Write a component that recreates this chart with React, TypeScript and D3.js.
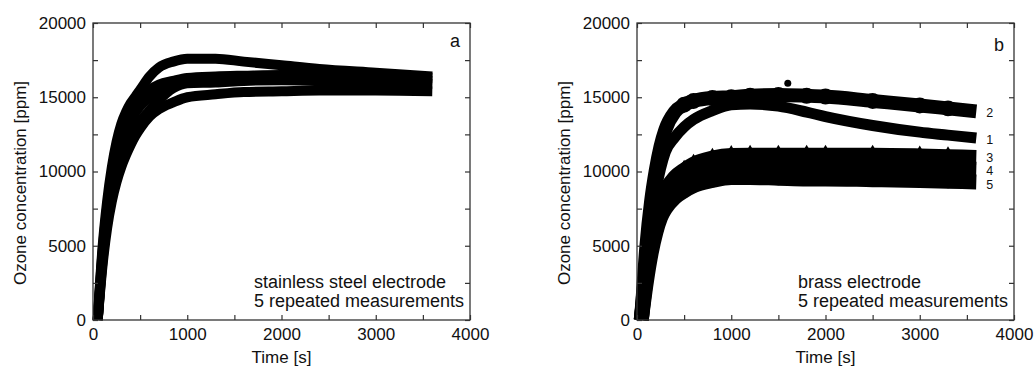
import React, { useEffect, useRef } from 'react';
import * as d3 from 'd3';

const width = 1034;
const height = 372;
const plotTop = 23;
const plotBottom = 320;
const font = '"Liberation Sans", Arial, sans-serif';

// time [s] and ozone concentration [ppm], stainless steel electrode
const steelTime = [50, 100, 150, 200, 250, 300, 350, 400, 450, 500, 600, 700, 850, 1000, 1300, 1600, 2000, 2400, 3000, 3600];
const steel1 = [0, 4800, 8000, 10300, 12000, 13200, 14000, 14600, 15050, 15500, 16400, 17000, 17400, 17600, 17600, 17400, 17150, 16900, 16650, 16400];
const steel2 = [0, 4500, 7600, 9800, 11400, 12600, 13500, 14100, 14600, 15000, 15500, 15850, 16100, 16300, 16400, 16450, 16500, 16500, 16400, 16300];
const steel3 = [0, 4200, 7100, 9200, 10800, 12000, 12900, 13500, 14000, 14400, 15000, 15500, 15900, 16100, 16200, 16300, 16350, 16300, 16200, 16100];
const steel4 = [0, 3900, 6700, 8600, 10000, 11100, 11900, 12500, 13000, 13400, 14100, 14800, 15600, 15950, 16000, 16100, 16150, 16100, 16000, 15900];
const steel5 = [0, 3600, 6200, 8000, 9300, 10300, 11100, 11800, 12400, 12900, 13700, 14200, 14650, 15000, 15200, 15350, 15400, 15450, 15450, 15400];

// brass electrode
const brassTime = [45, 100, 150, 200, 250, 300, 400, 500, 600, 800, 1000, 1200, 1500, 1800, 2000, 2500, 3000, 3300, 3600];
const brass1 = [0, 4000, 6700, 8700, 10200, 11300, 12300, 13000, 13500, 14100, 14500, 14550, 14400, 14000, 13700, 13100, 12650, 12450, 12250];
const brass2 = [0, 5000, 8000, 10100, 11700, 12800, 14000, 14500, 14750, 14950, 15000, 15100, 15150, 15100, 15050, 14750, 14450, 14250, 14050];
const brass3 = [0, 3500, 5600, 7000, 8000, 8700, 9600, 10100, 10500, 10900, 11080, 11100, 11100, 11100, 11100, 11100, 11050, 11000, 10950];
const brass4 = [0, 3000, 5000, 6400, 7400, 8100, 8900, 9400, 9750, 10150, 10350, 10350, 10350, 10300, 10300, 10300, 10250, 10200, 10150];
const brass5 = [0, 2600, 4500, 5900, 6900, 7500, 8250, 8700, 9050, 9400, 9600, 9600, 9550, 9500, 9500, 9450, 9400, 9350, 9300];
const brassOutlier = [1600, 15950];

const brassLabels = ['1', '2', '3', '4', '5'];
const xTicks = [0, 1000, 2000, 3000, 4000];
const yTicks = [0, 5000, 10000, 15000, 20000];

function drawPanel(svg, opts) {
    const x = d3.scaleLinear([0, 4000], [opts.left, opts.right]);
    const y = d3.scaleLinear([0, 20000], [plotBottom, plotTop]);
    const g = svg.append('g');

    const line = d3.line().x(d => x(d[0])).y(d => y(d[1])).curve(d3.curveMonotoneX);
    opts.series.forEach(s => {
        const pts = opts.time.map((t, i) => [t, s.values[i]]);
        g.append('path')
            .attr('d', line(pts))
            .attr('fill', 'none')
            .attr('stroke', '#000')
            .attr('stroke-width', s.width)
            .attr('stroke-linejoin', 'round')
            .attr('stroke-linecap', 'butt');
        if (s.marker) {
            g.selectAll(null)
                .data(pts.slice(7, -1))
                .join('path')
                .attr('transform', d => `translate(${x(d[0])},${y(d[1])})`)
                .attr('d', d3.symbol(s.marker, s.markerSize)());
        }
    });

    if (opts.outlier) {
        g.append('circle')
            .attr('cx', x(opts.outlier[0]))
            .attr('cy', y(opts.outlier[1]))
            .attr('r', 3.5);
    }

    const xMinor = d3.range(0, 4001, 500);
    const yMinor = d3.range(0, 20001, 2500);
    const fmtX = d => (xTicks.includes(d) ? String(d) : '');
    const fmtY = d => (yTicks.includes(d) ? String(d) : '');

    g.append('g')
        .attr('transform', `translate(0,${plotBottom})`)
        .call(d3.axisBottom(x).tickValues(xMinor).tickSizeInner(-5).tickSizeOuter(0).tickPadding(8).tickFormat(fmtX));
    g.append('g')
        .attr('transform', `translate(0,${plotTop})`)
        .call(d3.axisTop(x).tickValues(xMinor).tickSizeInner(-5).tickSizeOuter(0).tickFormat(() => ''));
    g.append('g')
        .attr('transform', `translate(${opts.left},0)`)
        .call(d3.axisLeft(y).tickValues(yMinor).tickSizeInner(-5).tickSizeOuter(0).tickPadding(7).tickFormat(fmtY));
    g.append('g')
        .attr('transform', `translate(${opts.right},0)`)
        .call(d3.axisRight(y).tickValues(yMinor).tickSizeInner(-5).tickSizeOuter(0).tickFormat(() => ''));

    g.selectAll('.domain').remove();
    g.selectAll('.tick line').attr('stroke', '#333').attr('stroke-width', 1.2);
    g.selectAll('.tick text').attr('font-size', 17).attr('font-family', font).attr('fill', '#111');

    g.append('rect')
        .attr('x', opts.left)
        .attr('y', plotTop)
        .attr('width', opts.right - opts.left)
        .attr('height', plotBottom - plotTop)
        .attr('fill', 'none')
        .attr('stroke', '#333')
        .attr('stroke-width', 1.3);

    const txt = (tx, ty, s, size = 17, anchor = 'start') =>
        g.append('text')
            .attr('x', tx)
            .attr('y', ty)
            .attr('font-family', font)
            .attr('font-size', size)
            .attr('text-anchor', anchor)
            .attr('fill', '#111')
            .text(s);

    txt((opts.left + opts.right) / 2, 363, 'Time [s]', 17, 'middle');
    g.append('text')
        .attr('transform', `translate(${opts.left - 67},183) rotate(-90)`)
        .attr('font-family', font)
        .attr('font-size', 17)
        .attr('text-anchor', 'middle')
        .attr('fill', '#111')
        .text('Ozone concentration [ppm]');

    txt(opts.right - 10, opts.letterY, opts.letter, 18, 'end');
    txt(opts.left + 161, 288, opts.note, 18);
    txt(opts.left + 161, 307, '5 repeated measurements', 18);

    if (opts.labels) {
        opts.labels.forEach(l => txt(x(3600) + 10, l.y, l.text, 12.5));
    }
}

export default function App() {
    const ref = useRef(null);

    useEffect(() => {
        const svg = d3.select(ref.current);
        svg.selectAll('*').remove();

        drawPanel(svg, {
            left: 93,
            right: 470,
            time: steelTime,
            series: [steel1, steel2, steel3, steel4, steel5].map(v => ({ values: v, width: 10 })),
            letter: 'a',
            letterY: 47,
            note: 'stainless steel electrode'
        });

        drawPanel(svg, {
            left: 637,
            right: 1014,
            time: brassTime,
            series: [
                { values: brass3, width: 15, marker: d3.symbolTriangle, markerSize: 140 },
                { values: brass4, width: 15 },
                { values: brass5, width: 15, marker: d3.symbolCircle, markerSize: 160 },
                { values: brass1, width: 11 },
                { values: brass2, width: 14, marker: d3.symbolCircle, markerSize: 200 }
            ],
            outlier: brassOutlier,
            letter: 'b',
            letterY: 51,
            note: 'brass electrode',
            labels: [
                { text: brassLabels[1], y: 116.5 },
                { text: brassLabels[0], y: 143.5 },
                { text: brassLabels[2], y: 161.5 },
                { text: brassLabels[3], y: 174.5 },
                { text: brassLabels[4], y: 188.5 }
            ]
        });
    }, []);

    return (
        <svg
            ref={ref}
            width={width}
            height={height}
            viewBox={`0 0 ${width} ${height}`}
            style={{ position: 'absolute', left: 0, top: 0, background: '#fff' }}
        />
    );
}
